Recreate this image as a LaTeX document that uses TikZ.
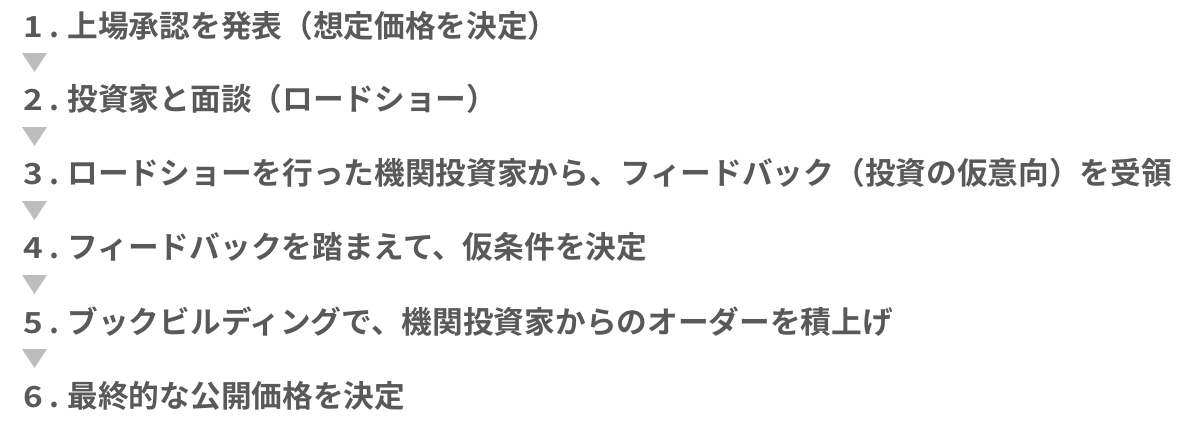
\documentclass[tikz,border=0pt]{standalone}
\usepackage{fontspec}
\setmainfont{Noto Sans CJK JP}[BoldFont={* Bold}]
\newfontfamily\jpb{Noto Sans CJK JP Bold}
\definecolor{txtgray}{HTML}{595959}
\definecolor{arrgray}{HTML}{BDBDBD}
\newcommand{\stepdigit}[1]{{\fontsize{29pt}{34pt}\selectfont\scalebox{1.15}[1]{#1}}\hspace{6pt}.}
\begin{document}
\begin{tikzpicture}[x=1pt,y=-1pt,
  numtext/.style={anchor=base west, inner sep=0pt, outer sep=0pt, text=txtgray, font=\jpb\fontsize{30.7pt}{36pt}\selectfont},
  steptext/.style={anchor=base west, inner sep=0pt, outer sep=0pt, text=txtgray, font=\jpb\fontsize{30.7pt}{36pt}\selectfont},
  downtri/.style={fill=arrgray, draw=none}]
\useasboundingbox (0,0) rectangle (1200,434);
\foreach \n/\yb in {1/37,2/110.5,3/184,4/258,5/333,6/407}{
  \node[numtext] (n\n) at (23.5,\yb) {\stepdigit{\n}};
}
\node[steptext] (s1) at (67.5,37) {上場承認を発表（想定価格を決定）};
\node[steptext] (s2) at (67.5,110.5) {投資家と面談（ロードショー）};
\node[steptext] (s3) at (67.5,184) {ロードショーを行った機関投資家から、フィードバック（投資の仮意向）を受領};
\node[steptext] (s4) at (67.5,258) {フィードバックを踏まえて、仮条件を決定};
\node[steptext] (s5) at (67.5,333) {ブックビルディングで、機関投資家からのオーダーを積上げ};
\node[steptext] (s6) at (67.5,407) {最終的な公開価格を決定};
\foreach \i/\yc in {1/62.5,2/136.5,3/210.5,4/284.5,5/358.5}{
  \fill[downtri] (22,\yc-9.5) -- (47,\yc-9.5) -- (34.5,\yc+9.5) -- cycle;
}
\end{tikzpicture}
\end{document}
